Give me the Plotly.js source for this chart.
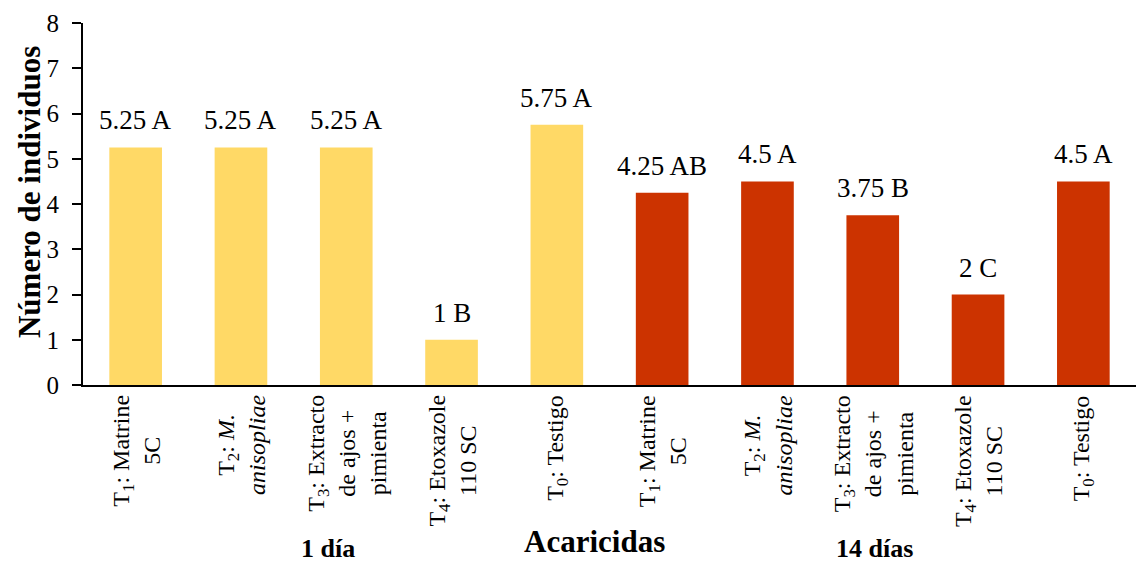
<!DOCTYPE html>
<html>
<head>
<meta charset="utf-8">
<script src="https://cdn.plot.ly/plotly-3.0.1.min.js"></script>
<style>html,body{margin:0;padding:0;background:#fff;}#chart{width:1136px;height:563px;}</style>
</head>
<body>
<div id="chart"></div>
<script>
// Data
const categories = [
  "T<sub>1</sub>: Matrine<br>5C",
  "T<sub>2</sub>: <i>M.</i><br><i>anisopliae</i>",
  "T<sub>3</sub>: Extracto<br>de ajos +<br>pimienta",
  "T<sub>4</sub>: Etoxazole<br>110 SC",
  "T<sub>0</sub>: Testigo"
];
const day1Values = [5.25, 5.25, 5.25, 1, 5.75];
const day1Letters = ["A", "A", "A", "B", "A"];
const day14Values = [4.25, 4.5, 3.75, 2, 4.5];
const day14Letters = ["AB", "A", "B", "C", "A"];
const groupLabels = ["1 día", "14 días"];
const xTitle = "Acaricidas";
const yTitle = "Número de individuos";

const allLabels = categories.concat(categories);
const allValues = day1Values.concat(day14Values);
const allLetters = day1Letters.concat(day14Letters);
const xIdx1 = day1Values.map((v, i) => i);
const xIdx14 = day14Values.map((v, i) => i + day1Values.length);
const xAll = xIdx1.concat(xIdx14);

const FONT = "Times New Roman, Liberation Serif, DejaVu Serif, serif";

const traces = [
  {type: "bar", x: xIdx1, y: day1Values, width: 0.5, marker: {color: "#FFD966"}, hoverinfo: "y", name: groupLabels[0]},
  {type: "bar", x: xIdx14, y: day14Values, width: 0.5, marker: {color: "#CC3300"}, hoverinfo: "y", name: groupLabels[1]}
];

const annotations = [];
// value labels above bars
xAll.forEach((x, i) => {
  annotations.push({
    x: x, y: allValues[i], xref: "x", yref: "y",
    text: allValues[i] + " " + allLetters[i],
    showarrow: false, xanchor: "center", yanchor: "bottom", yshift: 10,
    font: {family: FONT, size: 27, color: "#000", weight: "normal"}
  });
});
// category labels (rotated, centered lines)
xAll.forEach((x, i) => {
  annotations.push({
    x: x, y: 0, xref: "x", yref: "paper",
    text: allLabels[i], textangle: -90, align: "center",
    showarrow: false, xanchor: "center", yanchor: "top", yshift: -8,
    font: {family: FONT, size: 24, color: "#000", weight: "normal"}
  });
});
// y-axis title
annotations.push({x: 0, y: 0.533, xref: "paper", yref: "paper", xshift: -54, text: yTitle, textangle: -90,
  showarrow: false, xanchor: "center", yanchor: "middle",
  font: {family: FONT, size: 31, color: "#000", weight: "bold"}});
// group labels
annotations.push({x: 0.233, y: -0.452, xref: "paper", yref: "paper", text: groupLabels[0], showarrow: false,
  xanchor: "center", yanchor: "middle", font: {family: FONT, size: 26, color: "#000", weight: "bold"}});
annotations.push({x: 0.752, y: -0.452, xref: "paper", yref: "paper", text: groupLabels[1], showarrow: false,
  xanchor: "center", yanchor: "middle", font: {family: FONT, size: 26, color: "#000", weight: "bold"}});
annotations.push({x: 0.486, y: -0.486, xref: "paper", yref: "paper", text: xTitle, showarrow: false,
  xanchor: "center", yanchor: "bottom", font: {family: FONT, size: 31, color: "#000", weight: "bold"}});

const layout = {
  width: 1136, height: 563,
  margin: {l: 83, r: 0, t: 23, b: 178},
  paper_bgcolor: "#fff", plot_bgcolor: "#fff",
  showlegend: false,
  barmode: "overlay",
  font: {family: FONT, color: "#000"},
  xaxis: {
    range: [-0.5, 9.5], showticklabels: false, ticks: "", showgrid: false, zeroline: false,
    showline: true, linecolor: "#000", linewidth: 2, fixedrange: true
  },
  yaxis: {
    range: [0, 8], dtick: 1, tick0: 0, showgrid: false, zeroline: false,
    showline: true, linecolor: "#000", linewidth: 2,
    ticks: "outside", ticklen: 9, tickwidth: 2, tickcolor: "#000",
    ticklabelstandoff: 8,
    tickfont: {family: FONT, size: 25, color: "#000", weight: "normal"},
    fixedrange: true
  },
  annotations: annotations
};

Plotly.newPlot("chart", traces, layout, {displayModeBar: false, staticPlot: true});
</script>
</body>
</html>
